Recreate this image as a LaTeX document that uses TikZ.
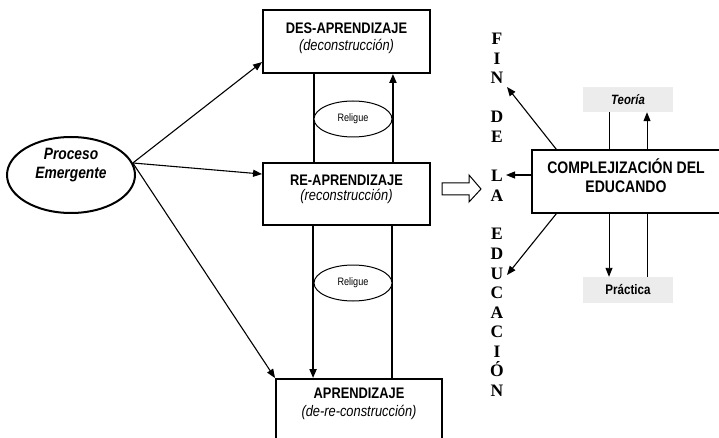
\documentclass[tikz,border=0pt]{standalone}
\usepackage{fontspec}
\setmainfont{Liberation Sans}[FakeStretch=0.84]
\newfontfamily\lettersf{Liberation Serif}
\usetikzlibrary{arrows.meta,shapes.geometric}

\tikzset{
  frame/.style={draw, line width=1.9pt, inner sep=0pt},
  link/.style={line width=1.9pt},
  tip/.style={-{Triangle[length=9pt,width=7pt]}},
  fine arrow/.style={line width=1.1pt, -{Triangle[length=9pt,width=7pt]}},
  title/.style={font=\fontsize{15.3}{17}\selectfont\bfseries, inner sep=0pt},
  subtitle/.style={font=\fontsize{15.3}{17}\selectfont\itshape, inner sep=0pt},
  relig/.style={draw, ellipse, line width=1pt, fill=white, minimum width=78pt,
    minimum height=36pt, inner sep=0pt, font=\fontsize{10.8}{12}\selectfont},
  letter/.style={font=\lettersf\fontsize{17.5}{17.5}\selectfont\bfseries, inner sep=0pt, anchor=base},
  tag/.style={fill=gray!15, minimum width=90pt, minimum height=25pt, inner sep=0pt},
}

\begin{document}
\begin{tikzpicture}[x=1pt,y=-1pt]
  \path[fill=white, use as bounding box] (0,0) rectangle (719,438);

  % the emerging process
  \node[draw, ellipse, line width=2pt, minimum width=128pt, minimum height=76pt,
        inner sep=0pt] (pe) at (71,175) {};
  \node[font=\fontsize{16.4}{18.5}\selectfont\bfseries\itshape, align=center, inner sep=0pt]
        (petext) at (71,165) {Proceso\\Emergente};

  % the three learning boxes
  \node[frame, minimum width=167pt, minimum height=63pt] (des) at (346.5,41.5) {};
  \node[title] (destitle) at (346.5,28.5) {DES-APRENDIZAJE};
  \node[subtitle] (dessub) at (346.5,46) {(deconstrucción)};

  \node[frame, minimum width=167pt, minimum height=62pt] (re) at (346.5,194) {};
  \node[title] (retitle) at (346.5,180) {RE-APRENDIZAJE};
  \node[subtitle] (resub) at (346.5,196.5) {(reconstrucción)};

  \node[frame, minimum width=166pt, minimum height=70pt] (apr) at (359,414) {};
  \node[title] (aprtitle) at (359,393) {APRENDIZAJE};
  \node[subtitle] (aprsub) at (359,412) {(de-re-construcción)};

  % arrows out of the emerging process
  \draw[fine arrow] (pe.11) -- ([yshift=-53pt]des.north west);
  \draw[fine arrow] (pe.11) -- ([yshift=-12pt]re.north west);
  \draw[fine arrow] (pe.11) -- (apr.north west);

  % links between the boxes
  \draw[link] ([xshift=52pt]des.south west) -- ([xshift=52pt]re.north west);
  \draw[link, tip] ([xshift=-38pt]re.north east) -- ([xshift=-38pt]des.south east);
  \draw[link, tip] ([xshift=51pt]re.south west) coordinate (dl) -- (dl |- apr.north);
  \draw[link] ([xshift=-51pt]apr.north east) coordinate (ul) -- (ul |- re.south);

  \node[relig] (rel1) at (353,119) {Religue};
  \node[relig] (rel2) at (353,283) {Religue};

  % hollow arrow
  \draw[line width=1pt] (442,183) -- (469,183) -- (469,175) -- (481,189)
        -- (469,202) -- (469,195) -- (442,195) -- cycle;

  % FIN DE LA EDUCACIÓN, one letter per row
  \foreach \c/\k in {F/0, I/1, N/2, D/4, E/5, L/7, A/8, E/10, D/11, U/12,
                     C/13, A/14, C/15, I/16, Ó/17, N/18}
    \node[letter] (ltr\k) at (497,{45+19.5*\k}) {\c};

  % theory and practice
  \node[tag, font=\fontsize{13.5}{16}\selectfont\bfseries\itshape] (teo) at (628,99.5) {Teoría};
  \node[tag, font=\fontsize{13.8}{16}\selectfont\bfseries, minimum height=26pt] (pra) at (628,290) {Práctica};
  \draw[line width=0.9pt, tip] ([xshift=-19pt]teo.south) -- ([xshift=-19pt]pra.north);
  \draw[line width=1pt, tip] ([xshift=19pt]pra.north) -- ([xshift=19pt]teo.south);

  \node[draw, line width=1.3pt, fill=white, minimum width=190pt, minimum height=63pt,
        inner sep=0pt] (cx) at (627,181.5) {};
  \node[font=\fontsize{16.7}{19}\selectfont\bfseries, align=center, inner sep=0pt]
        (cxtext) at (626,176) {COMPLEJIZACIÓN DEL\\EDUCANDO};

  \coordinate (tipN) at (507,87);
  \coordinate (tipL) at (506,175);
  \coordinate (tipU) at (507,275);
  \draw[fine arrow] ([xshift=25pt]cx.north west) -- (tipN);
  \draw[fine arrow] (cx.west |- tipL) -- (tipL);
  \draw[fine arrow] ([xshift=25pt]cx.south west) -- (tipU);
\end{tikzpicture}
\end{document}
